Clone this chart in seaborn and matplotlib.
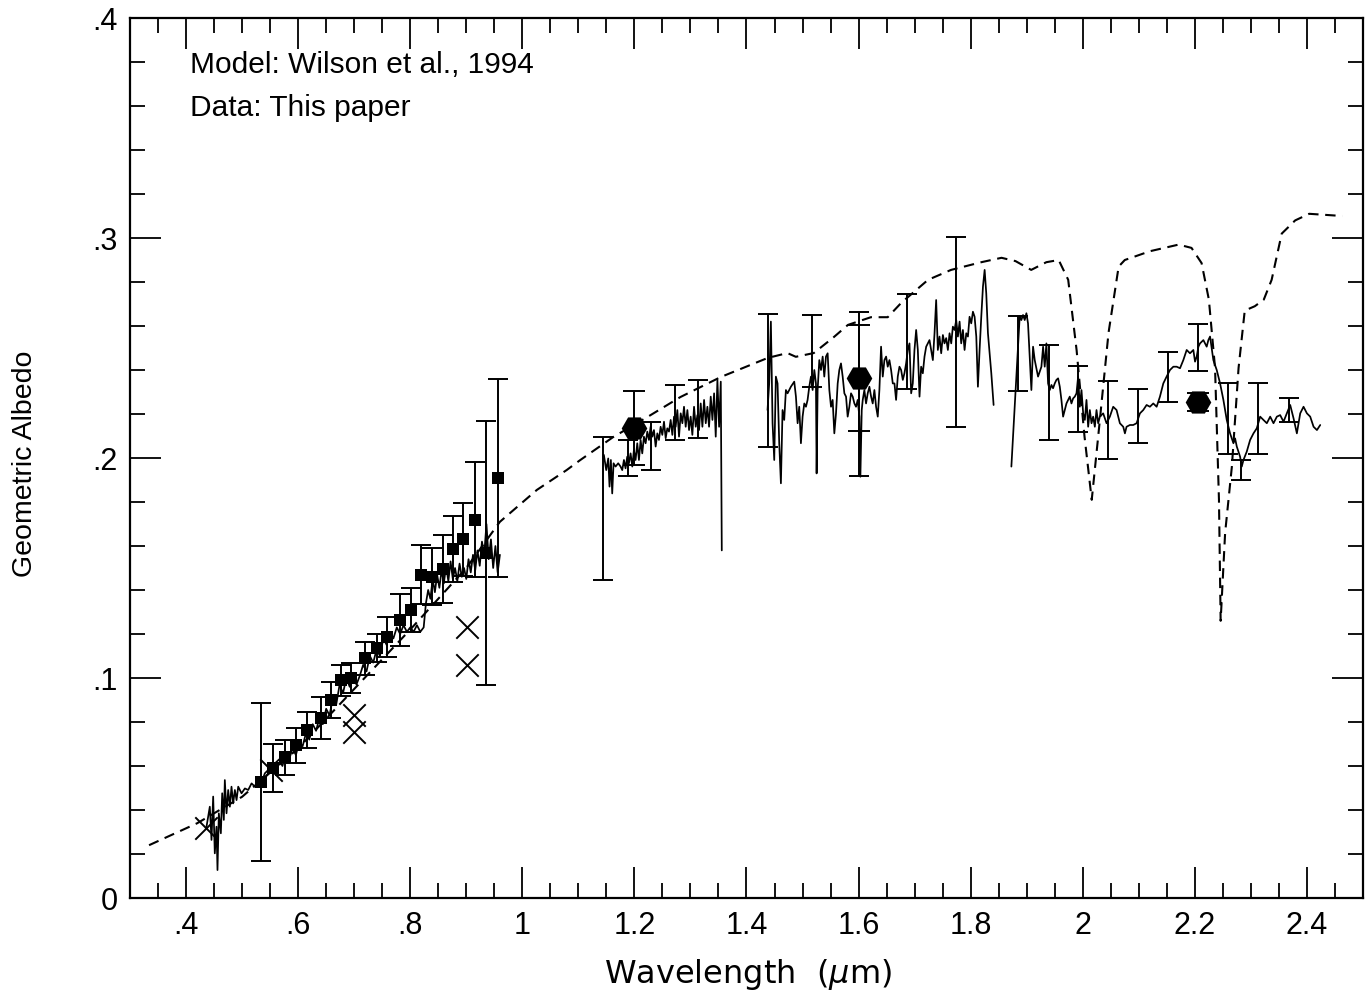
import numpy as np
import pandas as pd
import matplotlib
matplotlib.use("Agg")
import matplotlib.pyplot as plt
from matplotlib.ticker import MultipleLocator
import seaborn as sns

# ---------------------------------------------------------------------
#  data
# ---------------------------------------------------------------------
# model (dashed), Wilson et al. 1994
model_wl = [0.334, 0.42, 0.50, 0.60, 0.70, 0.80, 0.90, 0.96, 1.026, 1.079, 1.103, 1.162,
            1.223, 1.282, 1.354, 1.438, 1.473, 1.488, 1.52, 1.556, 1.581, 1.622, 1.652,
            1.676, 1.724, 1.765, 1.819, 1.855, 1.88, 1.908, 1.935, 1.957, 1.974, 1.989,
            2.003, 2.016, 2.028, 2.046, 2.064, 2.075, 2.12, 2.171, 2.194, 2.212, 2.225,
            2.236, 2.243, 2.246, 2.254, 2.266, 2.278, 2.289, 2.307, 2.323, 2.337, 2.355,
            2.379, 2.404, 2.463]
model_alb = [0.024, 0.034, 0.046, 0.068, 0.095, 0.122, 0.150, 0.171, 0.1855, 0.1945, 0.199,
             0.2095, 0.2186, 0.2277, 0.2368, 0.2455, 0.2477, 0.246, 0.2477, 0.255, 0.2605,
             0.264, 0.264, 0.2705, 0.281, 0.2855, 0.289, 0.291, 0.2895, 0.2855, 0.289, 0.29,
             0.281, 0.249, 0.21, 0.181, 0.211, 0.257, 0.287, 0.29, 0.294, 0.297, 0.2955,
             0.2886, 0.272, 0.241, 0.181, 0.126, 0.166, 0.196, 0.241, 0.267, 0.269, 0.272,
             0.281, 0.302, 0.308, 0.311, 0.31]

# spectrum, visible part
vis_wl = [0.4365, 0.4424, 0.4454, 0.4484, 0.4513, 0.4543, 0.4561, 0.4585, 0.4621, 0.4645,
          0.4674, 0.4692, 0.4722, 0.4752, 0.4782, 0.4811, 0.4841, 0.4871, 0.4901, 0.4931,
          0.4990, 0.5050, 0.5109, 0.5169, 0.5229, 0.5288, 0.5348, 0.5407, 0.5467, 0.5526,
          0.5586, 0.566, 0.572, 0.578, 0.584, 0.590, 0.596, 0.602, 0.608, 0.614, 0.620,
          0.626, 0.632, 0.638, 0.644, 0.650, 0.656, 0.662, 0.668, 0.674, 0.680, 0.686,
          0.692, 0.698, 0.704, 0.710, 0.716, 0.722, 0.728, 0.734, 0.740, 0.746, 0.752,
          0.758, 0.764, 0.770, 0.776, 0.782, 0.788, 0.794, 0.800, 0.806, 0.812, 0.818,
          0.824, 0.828, 0.832, 0.836, 0.840, 0.844, 0.848, 0.852, 0.856, 0.860, 0.864,
          0.868, 0.872, 0.876, 0.880, 0.884, 0.888, 0.892, 0.896, 0.900, 0.904, 0.908,
          0.912, 0.916, 0.920, 0.924, 0.928, 0.932, 0.936, 0.940, 0.944, 0.948, 0.952,
          0.956, 0.960]
vis_alb = [0.0324, 0.0415, 0.0264, 0.0461, 0.0203, 0.0324, 0.0127, 0.0385, 0.0294, 0.0476,
           0.0355, 0.0536, 0.0385, 0.0491, 0.0415, 0.0506, 0.0430, 0.0491, 0.0445, 0.0506,
           0.0476, 0.0498, 0.0491, 0.0521, 0.0506, 0.0536, 0.0528, 0.0567, 0.0582, 0.0574,
           0.0612, 0.063, 0.060, 0.066, 0.063, 0.068, 0.065, 0.071, 0.069, 0.075, 0.072,
           0.079, 0.076, 0.082, 0.079, 0.086, 0.083, 0.091, 0.088, 0.097, 0.093, 0.100,
           0.096, 0.102, 0.097, 0.101, 0.106, 0.103, 0.110, 0.107, 0.113, 0.110, 0.118,
           0.115, 0.121, 0.118, 0.123, 0.120, 0.124, 0.121, 0.123, 0.121, 0.124, 0.121,
           0.123, 0.134, 0.140, 0.136, 0.145, 0.139, 0.147, 0.141, 0.149, 0.143, 0.151,
           0.144, 0.153, 0.145, 0.150, 0.144, 0.152, 0.146, 0.150, 0.145, 0.154, 0.148,
           0.156, 0.149, 0.158, 0.151, 0.162, 0.156, 0.170, 0.154, 0.163, 0.150, 0.160,
           0.148, 0.156]

# spectrum, J band
j_wl = [1.1455, 1.1497, 1.1533, 1.1556, 1.1580, 1.1604, 1.1628, 1.1664, 1.1711, 1.1753,
        1.1783, 1.1813, 1.1842, 1.1872, 1.1902, 1.1932, 1.1962, 1.1991, 1.2021, 1.2051,
        1.2081, 1.2111, 1.2140, 1.2170, 1.2200, 1.2230, 1.2260, 1.2289, 1.2319, 1.2349,
        1.2379, 1.2409, 1.2438, 1.2468, 1.2498, 1.2528, 1.2558, 1.2587, 1.2617, 1.2647,
        1.2677, 1.2707, 1.2736, 1.2766, 1.2796, 1.2826, 1.2856, 1.2885, 1.2915, 1.2945,
        1.2975, 1.3004, 1.3034, 1.3064, 1.3094, 1.3124, 1.3153, 1.3183, 1.3213, 1.3243,
        1.3273, 1.3302, 1.3332, 1.3362, 1.3392, 1.3422, 1.3451, 1.3481, 1.3511, 1.3541,
        1.3559]
j_alb = [0.2014, 0.1945, 0.1998, 0.1870, 0.1991, 0.1839, 0.1976, 0.1961, 0.1976, 0.1961,
         0.1945, 0.1991, 0.1953, 0.2006, 0.1976, 0.2021, 0.1961, 0.2036, 0.1991, 0.2067,
         0.1991, 0.2082, 0.2021, 0.2097, 0.2067, 0.2120, 0.2082, 0.2142, 0.2097, 0.2127,
         0.2052, 0.2112, 0.2082, 0.2142, 0.2105, 0.2165, 0.2090, 0.2135, 0.2120, 0.2173,
         0.2105, 0.2188, 0.2142, 0.2218, 0.2097, 0.2203, 0.2158, 0.2233, 0.2142, 0.2218,
         0.2127, 0.2188, 0.2105, 0.2233, 0.2142, 0.2195, 0.2127, 0.2248, 0.2142, 0.2264,
         0.2158, 0.2233, 0.2142, 0.2279, 0.2173, 0.2294, 0.2097, 0.2355, 0.2142, 0.2347,
         0.1580]

# spectrum, H band
h_wl = [1.4375, 1.4405, 1.4435, 1.4465, 1.4495, 1.4524, 1.4554, 1.4584, 1.4614, 1.4643,
        1.4673, 1.4703, 1.4733, 1.4792, 1.4852, 1.4882, 1.4912, 1.4941, 1.4971, 1.5001,
        1.5031, 1.5061, 1.5090, 1.5120, 1.5150, 1.5180, 1.5210, 1.5239, 1.5251, 1.5269,
        1.5299, 1.5329, 1.5359, 1.5388, 1.5418, 1.5448, 1.5478, 1.5508, 1.5537, 1.5567,
        1.5597, 1.5627, 1.5656, 1.5686, 1.5716, 1.5746, 1.5776, 1.5805, 1.5835, 1.5865,
        1.5895, 1.5925, 1.5954, 1.5984, 1.6014, 1.6032, 1.6056, 1.6074, 1.6103, 1.6133,
        1.6163, 1.6193, 1.6223, 1.6252, 1.6282, 1.6312, 1.6342, 1.6371, 1.6401, 1.6431,
        1.6461, 1.6491, 1.6520, 1.6550, 1.6580, 1.6610, 1.6640, 1.6669, 1.6699, 1.6729,
        1.6759, 1.6789, 1.6818, 1.6848, 1.6878, 1.6908, 1.6938, 1.6967, 1.6997, 1.7027,
        1.7057, 1.7087, 1.7116, 1.7146, 1.7176, 1.7206, 1.7235, 1.7265, 1.7295, 1.7325,
        1.7355, 1.7384, 1.7414, 1.7444, 1.7474, 1.7504, 1.7533, 1.7563, 1.7593, 1.7623,
        1.7653, 1.7682, 1.7712, 1.7742, 1.7772, 1.7802, 1.7831, 1.7861, 1.7891, 1.7921,
        1.7951, 1.7980, 1.8010, 1.8040, 1.8070, 1.8100, 1.8129, 1.8159, 1.8189, 1.8219,
        1.8249, 1.8278, 1.8308, 1.8368, 1.8409]
h_alb = [0.2218, 0.2339, 0.2620, 0.2158, 0.1991, 0.2370, 0.2339, 0.2067, 0.1885, 0.2218,
         0.2173, 0.2309, 0.2294, 0.2324, 0.2347, 0.2279, 0.2158, 0.2233, 0.2067, 0.2188,
         0.2248, 0.2233, 0.2264, 0.2324, 0.2370, 0.2309, 0.2400, 0.2339, 0.1930, 0.2309,
         0.2445, 0.2400, 0.2461, 0.2370, 0.2461, 0.2476, 0.2309, 0.2233, 0.2264, 0.2112,
         0.2203, 0.2339, 0.2400, 0.2430, 0.2370, 0.2294, 0.2279, 0.2188, 0.2233, 0.2294,
         0.2279, 0.2248, 0.2233, 0.2264, 0.2188, 0.1915, 0.2218, 0.2264, 0.2309, 0.2248,
         0.2294, 0.2324, 0.2279, 0.2248, 0.2309, 0.2233, 0.2188, 0.2309, 0.2506, 0.2370,
         0.2445, 0.2461, 0.2415, 0.2445, 0.2400, 0.2339, 0.2339, 0.2264, 0.2370, 0.2415,
         0.2400, 0.2355, 0.2385, 0.2430, 0.2491, 0.2521, 0.2294, 0.2339, 0.2491, 0.2582,
         0.2491, 0.2279, 0.2415, 0.2385, 0.2461, 0.2506, 0.2521, 0.2536, 0.2491, 0.2445,
         0.2567, 0.2718, 0.2491, 0.2552, 0.2476, 0.2559, 0.2521, 0.2545, 0.2491, 0.2567,
         0.2521, 0.2597, 0.2582, 0.2627, 0.2552, 0.2620, 0.2521, 0.2582, 0.2491, 0.2567,
         0.2552, 0.2642, 0.2612, 0.2665, 0.2642, 0.2552, 0.2324, 0.2491, 0.2642, 0.2779,
         0.2855, 0.2748, 0.2567, 0.2385, 0.2241]

# spectrum, K band
k_wl = [1.8726, 1.8875, 1.8904, 1.8934, 1.8964, 1.8994, 1.9023, 1.9083, 1.9113, 1.9143,
        1.9202, 1.9262, 1.9292, 1.9321, 1.9351, 1.9381, 1.9411, 1.9441, 1.9470, 1.9500,
        1.9530, 1.9560, 1.9590, 1.9619, 1.9649, 1.9679, 1.9709, 1.9739, 1.9768, 1.9798,
        1.9828, 1.9858, 1.9888, 1.9917, 1.9947, 1.9977, 2.0007, 2.0037, 2.0066, 2.0096,
        2.0126, 2.0156, 2.0185, 2.0215, 2.0245, 2.0275, 2.0305, 2.0364, 2.0424, 2.0483,
        2.0543, 2.0603, 2.0662, 2.0722, 2.0752, 2.0781, 2.0841, 2.0900, 2.0960, 2.1020,
        2.1079, 2.1139, 2.1198, 2.1258, 2.1318, 2.1377, 2.1437, 2.1496, 2.1556, 2.1616,
        2.1675, 2.1735, 2.1794, 2.1854, 2.1913, 2.1973, 2.2003, 2.2033, 2.2063, 2.2092,
        2.2152, 2.2211, 2.2241, 2.2271, 2.2330, 2.2390, 2.2450, 2.2509, 2.2569, 2.2628,
        2.2688, 2.2718, 2.2748, 2.2807, 2.2837, 2.2867, 2.2926, 2.2986, 2.3046, 2.3105,
        2.3165, 2.3224, 2.3284, 2.3344, 2.3403, 2.3463, 2.3522, 2.3582, 2.3641, 2.3701,
        2.3761, 2.3820, 2.3880, 2.3939, 2.3999, 2.4058, 2.4118, 2.4178, 2.4237]
k_alb = [0.1961, 0.2645, 0.2627, 0.2650, 0.2627, 0.2658, 0.2612, 0.2309, 0.2506, 0.2445,
         0.2370, 0.2415, 0.2506, 0.2415, 0.2521, 0.2339, 0.2309, 0.2332, 0.2317, 0.2339,
         0.2355, 0.2362, 0.2324, 0.2264, 0.2188, 0.2218, 0.2248, 0.2264, 0.2279, 0.2248,
         0.2271, 0.2279, 0.2294, 0.2370, 0.2233, 0.2309, 0.2203, 0.2173, 0.2264, 0.2142,
         0.2218, 0.2158, 0.2188, 0.2142, 0.2218, 0.2158, 0.2188, 0.2203, 0.2158, 0.2188,
         0.2233, 0.2218, 0.2158, 0.2142, 0.2112, 0.2142, 0.2150, 0.2150, 0.2158, 0.2203,
         0.2218, 0.2241, 0.2233, 0.2248, 0.2233, 0.2279, 0.2339, 0.2370, 0.2400, 0.2415,
         0.2415, 0.2408, 0.2445, 0.2491, 0.2476, 0.2491, 0.2438, 0.2461, 0.2506, 0.2521,
         0.2536, 0.2506, 0.2536, 0.2552, 0.2445, 0.2400, 0.2339, 0.2264, 0.2173, 0.2112,
         0.2067, 0.2089, 0.2052, 0.2006, 0.1961, 0.1991, 0.2029, 0.2082, 0.2112, 0.2135,
         0.2188, 0.2173, 0.2158, 0.2188, 0.2158, 0.2188, 0.2195, 0.2165, 0.2203, 0.2241,
         0.2180, 0.2112, 0.2203, 0.2233, 0.2203, 0.2188, 0.2142, 0.2127, 0.2150]

# binned visible points (filled squares) with errors
sq_wl = [0.534, 0.556, 0.577, 0.597, 0.615, 0.640, 0.659, 0.677, 0.695, 0.720, 0.740,
         0.759, 0.781, 0.801, 0.820, 0.838, 0.858, 0.877, 0.895, 0.915, 0.936, 0.956]
sq_alb = [0.0527, 0.059, 0.064, 0.0695, 0.0764, 0.0818, 0.090, 0.099, 0.100, 0.109, 0.1136,
          0.1186, 0.1264, 0.131, 0.147, 0.146, 0.1495, 0.1585, 0.163, 0.172, 0.157, 0.191]
sq_err = [0.036, 0.011, 0.008, 0.008, 0.008, 0.0096, 0.008, 0.007, 0.007, 0.0075, 0.0065,
          0.009, 0.012, 0.010, 0.0135, 0.013, 0.0155, 0.015, 0.0165, 0.026, 0.060, 0.045]

# crosses
cross_wl = [0.436, 0.552, 0.700, 0.700, 0.901, 0.901]
cross_alb = [0.032, 0.058, 0.083, 0.0755, 0.123, 0.106]

# broadband points (hexagons)
hex_wl = [1.2, 1.6, 2.205]
hex_alb = [0.2136, 0.2364, 0.2255]
hex_err = [0.017, 0.024, 0.004]

# infrared spectrum error bars (bottom / top)
bar_wl = [1.144, 1.188, 1.230, 1.272, 1.314, 1.439, 1.516, 1.601, 1.687, 1.773, 1.884,
          1.939, 1.991, 2.045, 2.098, 2.152, 2.205, 2.259, 2.282, 2.313, 2.368]
bar_lo = [0.1445, 0.192, 0.1945, 0.208, 0.209, 0.205, 0.2323, 0.1918, 0.2314, 0.214, 0.2305,
          0.208, 0.2118, 0.1995, 0.2068, 0.2255, 0.2395, 0.2018, 0.190, 0.2018, 0.2164]
bar_hi = [0.2095, 0.208, 0.2164, 0.233, 0.2355, 0.2655, 0.265, 0.2664, 0.2745, 0.3005, 0.2645,
          0.2514, 0.2418, 0.235, 0.2314, 0.248, 0.261, 0.234, 0.199, 0.234, 0.2273]

xticks = [0.4, 0.6, 0.8, 1.0, 1.2, 1.4, 1.6, 1.8, 2.0, 2.2, 2.4]
xtick_labels = ['.4', '.6', '.8', '1', '1.2', '1.4', '1.6', '1.8', '2', '2.2', '2.4']
yticks = [0.0, 0.1, 0.2, 0.3, 0.4]
ytick_labels = ['0', '.1', '.2', '.3', '.4']

# ---------------------------------------------------------------------
#  plot
# ---------------------------------------------------------------------
sns.set_theme(style="ticks")
plt.rcParams['font.family'] = ['Liberation Sans', 'DejaVu Sans']
plt.rcParams['mathtext.fontset'] = 'dejavusans'
plt.rcParams['text.color'] = 'black'

spec = pd.concat([
    pd.DataFrame({'wl': vis_wl, 'alb': vis_alb, 'seg': 0}),
    pd.DataFrame({'wl': j_wl, 'alb': j_alb, 'seg': 1}),
    pd.DataFrame({'wl': h_wl, 'alb': h_alb, 'seg': 2}),
    pd.DataFrame({'wl': k_wl, 'alb': k_alb, 'seg': 3}),
], ignore_index=True)

fig = plt.figure(figsize=(13.65, 9.94), dpi=100)
ax = fig.add_axes([130 / 1365, 96 / 994, 1233 / 1365, 880 / 994])

sns.lineplot(x=model_wl, y=model_alb, color='black', lw=1.5, linestyle=(0, (5, 3.2)),
             sort=False, estimator=None, ax=ax)
sns.lineplot(data=spec, x='wl', y='alb', units='seg', estimator=None, sort=False,
             color='black', lw=1.25, ax=ax, legend=False)

# error bars
bar_mid = (np.array(bar_lo) + np.array(bar_hi)) / 2
bar_half = (np.array(bar_hi) - np.array(bar_lo)) / 2
ax.errorbar(bar_wl, bar_mid, yerr=bar_half, fmt='none', ecolor='black',
            elinewidth=1.4, capsize=7.5, capthick=1.4)
ax.errorbar(sq_wl, sq_alb, yerr=sq_err, fmt='none', ecolor='black',
            elinewidth=1.4, capsize=7, capthick=1.4)
ax.errorbar(hex_wl, hex_alb, yerr=hex_err, fmt='none', ecolor='black',
            elinewidth=1.4, capsize=8, capthick=1.4)

sns.scatterplot(x=sq_wl, y=sq_alb, marker='s', s=72, color='black', linewidth=0,
                ax=ax, zorder=5)
sns.scatterplot(x=cross_wl, y=cross_alb, marker='x', s=260, color='black',
                linewidth=1.4, ax=ax, zorder=5)
sns.scatterplot(x=hex_wl, y=hex_alb, marker='H', s=340, color='black', linewidth=0,
                ax=ax, zorder=5)

ax.set_xlim(0.3, 2.5)
ax.set_ylim(0, 0.4)
ax.set_xticks(xticks)
ax.set_xticklabels(xtick_labels)
ax.set_yticks(yticks)
ax.set_yticklabels(ytick_labels)
ax.xaxis.set_minor_locator(MultipleLocator(0.05))
ax.yaxis.set_minor_locator(MultipleLocator(0.02))
ax.tick_params(which='both', direction='in', top=True, right=True, width=1.3,
               color='black', labelsize=22, pad=9, labelcolor='black')
ax.tick_params(which='major', length=22)
ax.tick_params(which='minor', length=11)
for sp in ax.spines.values():
    sp.set_visible(True)
    sp.set_linewidth(1.6)
    sp.set_color('black')
ax.set_xlabel('')
ax.set_ylabel('')

ax.text(0.0486, 0.9466, 'Model: Wilson et al., 1994', transform=ax.transAxes,
        fontsize=21.5, va='center', ha='left', color='black')
ax.text(0.0486, 0.8977, 'Data: This paper', transform=ax.transAxes,
        fontsize=21.5, va='center', ha='left', color='black')

fig.text(25 / 1365, 1 - 464 / 994, 'Geometric Albedo', rotation=90, va='center',
         ha='center', fontsize=20.5, color='black')
fig.text(748 / 1365, 1 - 975 / 994, r'Wavelength  ($\mu$m)', family='DejaVu Sans',
         fontsize=23, va='center', ha='center', color='black')

fig.savefig('out.png', dpi=100)
